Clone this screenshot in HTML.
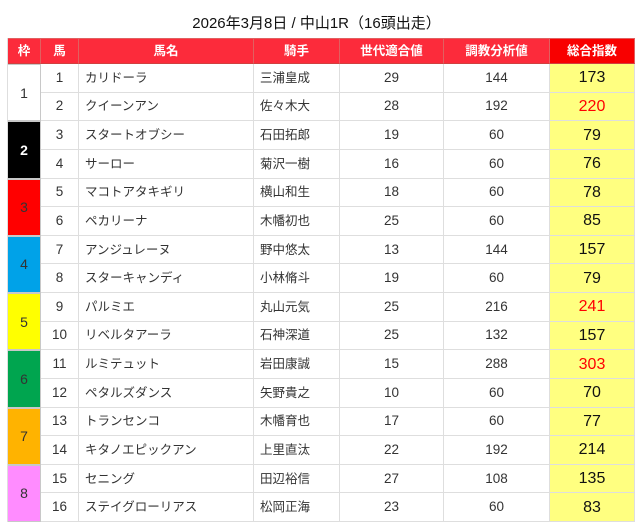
<!DOCTYPE html>
<html><head><meta charset="utf-8">
<style>
html,body{margin:0;padding:0;background:#fff;}
body{width:640px;height:531px;position:relative;overflow:hidden;font-family:"Liberation Sans","Noto Sans CJK JP",sans-serif;}
.title{position:absolute;left:0;top:14px;width:633px;text-align:center;font-size:15px;line-height:20px;color:#111;}
.g{position:absolute;left:7px;top:38px;display:grid;grid-template-columns:33px 38px 175px 86px 104px 106px 85px;grid-template-rows:26px repeat(16,28.625px);border-left:1px solid #dedede;}
.g>div{box-sizing:border-box;border-right:1px solid #dedede;border-bottom:1px solid #dedede;display:flex;align-items:center;justify-content:center;font-size:13.5px;color:#333;background:#fff;line-height:16px;white-space:nowrap;}
.g>div.h{background:#fc2b3b;color:#fff;font-weight:bold;font-size:12.5px;border-right:1px solid #e06060;border-bottom:1px solid #d04040;border-top:1px solid #e06060;}
.g>div.h.t{background:#f80000;}
.g>div.l{justify-content:flex-start;padding-left:6px;font-size:12.5px;}
.g>div.s{background:#ffff80;font-size:16px;color:#111;padding-top:1px;}
.g>div.r{color:#ff0000;}
.g>div.f{grid-row:span 2;font-size:14px;border:1px solid #c8c8c8;border-left:none;}
.g>div.f1{background:#fff;}
.g>div.f2{background:#000;color:#fff;font-weight:bold;}
.g>div.f3{background:#ff0000;}
.g>div.f4{background:#00a2e8;}
.g>div.f5{background:#ffff00;}
.g>div.f6{background:#00a54f;}
.g>div.f7{background:#ffb300;}
.g>div.f8{background:#ff8cff;}
</style></head><body>
<div class="title">2026年3月8日 / 中山1R（16頭出走）</div>
<div class="g">
<div class="h">枠</div><div class="h">馬</div><div class="h">馬名</div><div class="h">騎手</div><div class="h">世代適合値</div><div class="h">調教分析値</div><div class="h t">総合指数</div>

<div class="f f1">1</div><div>1</div><div class="l">カリドーラ</div><div class="l">三浦皇成</div><div>29</div><div>144</div><div class="s">173</div>
<div>2</div><div class="l">クイーンアン</div><div class="l">佐々木大</div><div>28</div><div>192</div><div class="s r">220</div>

<div class="f f2">2</div><div>3</div><div class="l">スタートオブシー</div><div class="l">石田拓郎</div><div>19</div><div>60</div><div class="s">79</div>
<div>4</div><div class="l">サーロー</div><div class="l">菊沢一樹</div><div>16</div><div>60</div><div class="s">76</div>

<div class="f f3">3</div><div>5</div><div class="l">マコトアタキギリ</div><div class="l">横山和生</div><div>18</div><div>60</div><div class="s">78</div>
<div>6</div><div class="l">ペカリーナ</div><div class="l">木幡初也</div><div>25</div><div>60</div><div class="s">85</div>

<div class="f f4">4</div><div>7</div><div class="l">アンジュレーヌ</div><div class="l">野中悠太</div><div>13</div><div>144</div><div class="s">157</div>
<div>8</div><div class="l">スターキャンディ</div><div class="l">小林脩斗</div><div>19</div><div>60</div><div class="s">79</div>

<div class="f f5">5</div><div>9</div><div class="l">パルミエ</div><div class="l">丸山元気</div><div>25</div><div>216</div><div class="s r">241</div>
<div>10</div><div class="l">リベルタアーラ</div><div class="l">石神深道</div><div>25</div><div>132</div><div class="s">157</div>

<div class="f f6">6</div><div>11</div><div class="l">ルミテュット</div><div class="l">岩田康誠</div><div>15</div><div>288</div><div class="s r">303</div>
<div>12</div><div class="l">ペタルズダンス</div><div class="l">矢野貴之</div><div>10</div><div>60</div><div class="s">70</div>

<div class="f f7">7</div><div>13</div><div class="l">トランセンコ</div><div class="l">木幡育也</div><div>17</div><div>60</div><div class="s">77</div>
<div>14</div><div class="l">キタノエピックアン</div><div class="l">上里直汰</div><div>22</div><div>192</div><div class="s">214</div>

<div class="f f8">8</div><div>15</div><div class="l">セニング</div><div class="l">田辺裕信</div><div>27</div><div>108</div><div class="s">135</div>
<div>16</div><div class="l">ステイグローリアス</div><div class="l">松岡正海</div><div>23</div><div>60</div><div class="s">83</div>
</div>
</body></html>
